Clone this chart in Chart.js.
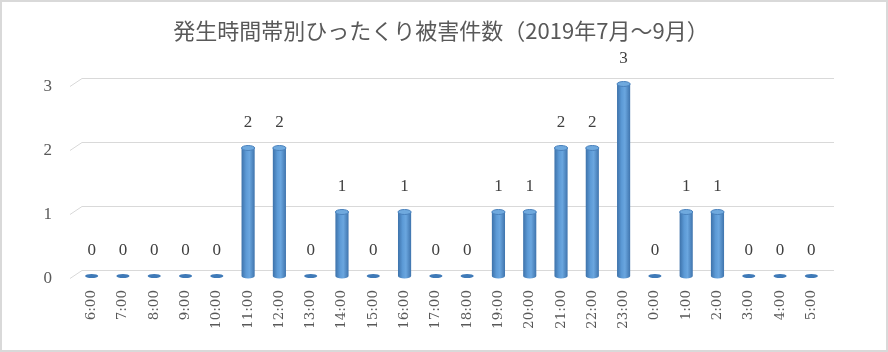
<!DOCTYPE html>
<html>
<head>
<meta charset="utf-8">
<script src="https://cdn.jsdelivr.net/npm/chart.js@4.4.1/dist/chart.umd.min.js"></script>
<style>
  html, body { margin: 0; padding: 0; background: #fff; }
  #wrap { width: 888px; height: 352px; }
</style>
</head>
<body>
<div id="wrap"><canvas id="grafico" width="888" height="352"></canvas></div>
<script>
const horas = ['6:00', '7:00', '8:00', '9:00', '10:00', '11:00', '12:00', '13:00', '14:00', '15:00', '16:00', '17:00',
  '18:00', '19:00', '20:00', '21:00', '22:00', '23:00', '0:00', '1:00', '2:00', '3:00', '4:00', '5:00'];
const casos = [0, 0, 0, 0, 0, 2, 2, 0, 1, 0, 1, 0, 0, 1, 1, 2, 2, 3, 0, 1, 1, 0, 0, 0];
const marcasY = [0, 1, 2, 3];
const titulo = '発生時間帯別ひったくり被害件数（2019年7月～9月）';

const serif = '"Liberation Serif", "DejaVu Serif", serif';

// grade de fundo com a parede em perspectiva
const gradeFundo = {
  id: 'gradeFundo',
  beforeDatasetsDraw(chart) {
    const ctx = chart.ctx;
    const y = chart.scales.y;
    ctx.save();
    ctx.strokeStyle = '#d9d9d9';
    ctx.lineWidth = 1;
    marcasY.forEach(v => {
      const py = Math.round(y.getPixelForValue(v)) - 5.5;
      ctx.beginPath();
      ctx.moveTo(70, py + 8);
      ctx.lineTo(82, py);
      ctx.lineTo(834, py);
      ctx.stroke();
    });
    ctx.restore();
  }
};

// cilindros + rótulos + título + moldura
const cilindros = {
  id: 'cilindros',
  afterDatasetsDraw(chart) {
    const ctx = chart.ctx;
    const meta = chart.getDatasetMeta(0);
    ctx.save();
    meta.data.forEach((barra, i) => {
      const { x, y, base, width } = barra.getProps(['x', 'y', 'base', 'width'], true);
      const w = width / 2;
      const ry = 2.5;
      if (casos[i] === 0) {
        ctx.fillStyle = '#3f7ab8';
        ctx.beginPath();
        ctx.ellipse(x, base, w, 2, 0, 0, Math.PI * 2);
        ctx.fill();
      } else {
        const g = ctx.createLinearGradient(x - w, 0, x + w, 0);
        g.addColorStop(0, '#3d72aa');
        g.addColorStop(0.35, '#5c9ad6');
        g.addColorStop(0.6, '#6aa6df');
        g.addColorStop(1, '#3f74ad');
        ctx.fillStyle = g;
        ctx.beginPath();
        ctx.moveTo(x - w, y);
        ctx.lineTo(x - w, base);
        ctx.ellipse(x, base, w, ry, 0, Math.PI, 0, true);
        ctx.lineTo(x + w, y);
        ctx.closePath();
        ctx.fill();
        ctx.fillStyle = '#6fa9de';
        ctx.strokeStyle = '#4a82bd';
        ctx.lineWidth = 1;
        ctx.beginPath();
        ctx.ellipse(x, y, w, ry, 0, 0, Math.PI * 2);
        ctx.fill();
        ctx.stroke();
      }
      ctx.fillStyle = '#404040';
      ctx.font = '17px ' + serif;
      ctx.textAlign = 'center';
      ctx.textBaseline = 'alphabetic';
      ctx.fillText(String(casos[i]), x, y - 21);
    });
    ctx.restore();
  },
  afterDraw(chart) {
    const ctx = chart.ctx;
    ctx.save();
    ctx.fillStyle = '#595959';
    ctx.font = '22px "Noto Sans CJK JP", sans-serif';
    ctx.textAlign = 'center';
    ctx.textBaseline = 'middle';
    ctx.fillText(titulo, 441, 31);
    ctx.strokeStyle = '#d9d9d9';
    ctx.lineWidth = 2;
    ctx.strokeRect(1, 1, chart.width - 2, chart.height - 2);
    ctx.restore();
  }
};

const grafico = new Chart(document.getElementById('grafico'), {
  type: 'bar',
  data: {
    labels: horas,
    datasets: [{
      label: '件数',
      data: casos,
      backgroundColor: 'rgba(0,0,0,0)',
      borderWidth: 0,
      barPercentage: 0.42,
      categoryPercentage: 1
    }]
  },
  options: {
    responsive: false,
    animation: false,
    layout: { padding: { left: 0, right: 61, top: 84, bottom: 0 } },
    plugins: {
      legend: { display: false },
      tooltip: { enabled: false },
      title: { display: false }
    },
    scales: {
      x: {
        grid: { display: false, drawTicks: false },
        border: { display: false },
        ticks: {
          autoSkip: false,
          minRotation: 90,
          maxRotation: 90,
          padding: 14,
          color: '#595959',
          font: { family: '"DejaVu Serif", serif', size: 13.5 }
        },
        afterFit: s => { s.height = 76; }
      },
      y: {
        min: 0,
        max: 3,
        grid: { display: false, drawTicks: false },
        border: { display: false },
        afterBuildTicks: s => { s.ticks = marcasY.map(v => ({ value: v })); },
        ticks: {
          padding: 24,
          labelOffset: 3,
          color: '#595959',
          font: { family: serif, size: 17 }
        },
        afterFit: s => { s.width = 76; }
      }
    }
  },
  plugins: [gradeFundo, cilindros]
});
</script>
</body>
</html>
